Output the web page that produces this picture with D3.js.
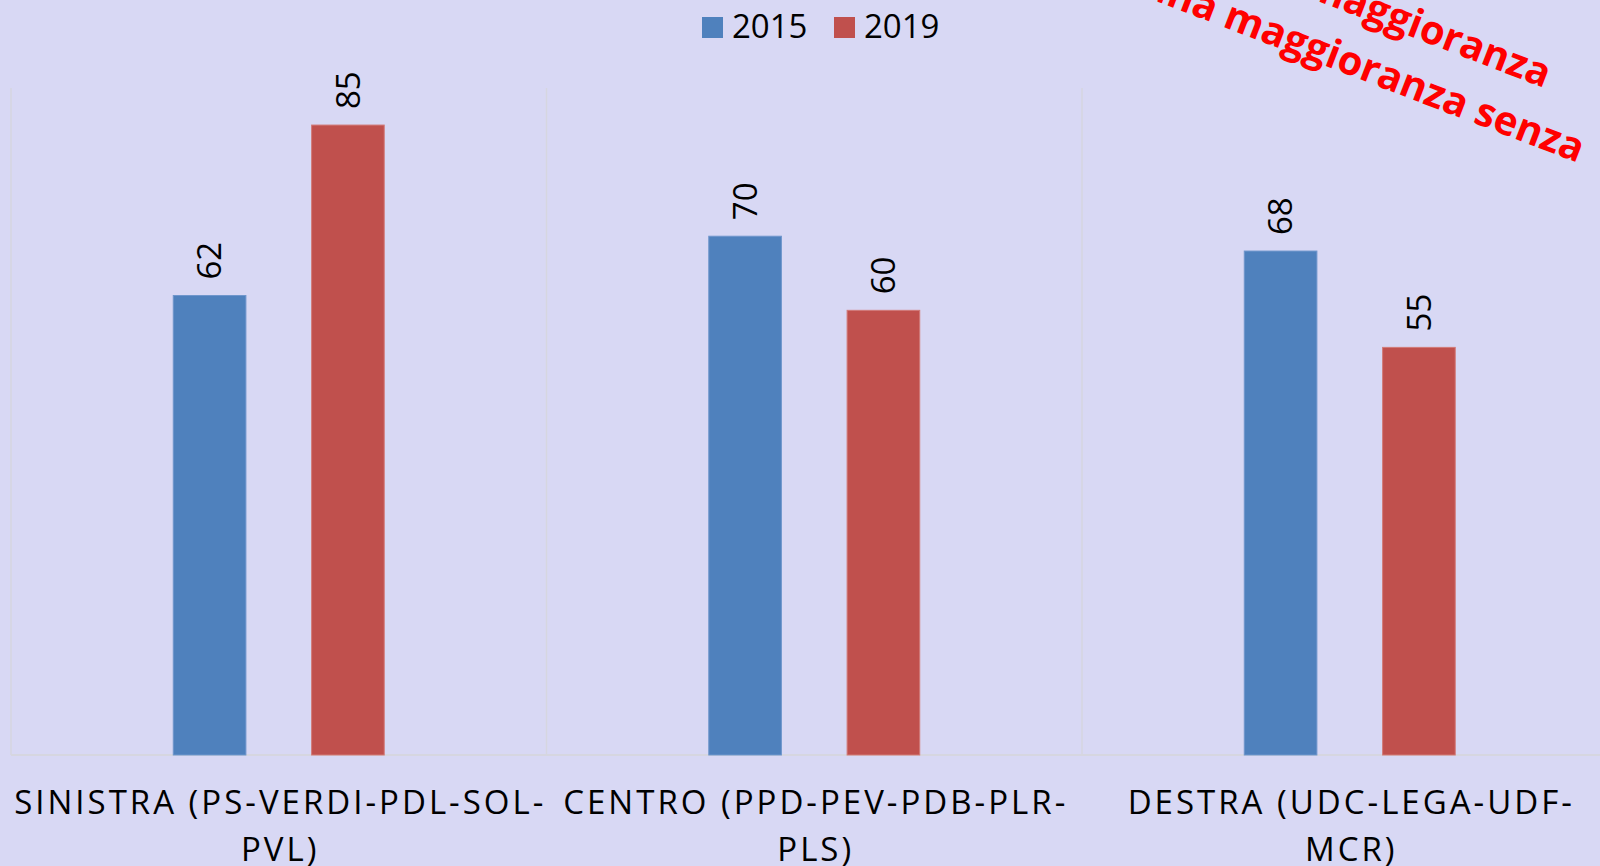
<!DOCTYPE html>
<html>
<head>
  <meta charset="utf-8">
  <title>Seggi 2015 - 2019</title>
  <script src="https://cdn.jsdelivr.net/npm/d3@7/dist/d3.min.js"></script>
  <style>
    html, body { margin: 0; padding: 0; background: #d8d8f4; overflow: hidden; }
    svg { display: block; font-family: "Open Sans", sans-serif; }
  </style>
</head>
<body>
  <svg id="chart" width="1600" height="866"></svg>
  <script>
    // dati
    const categorie = ['SINISTRA', 'CENTRO', 'DESTRA'];
    const etichette = [
      ['SINISTRA (PS-VERDI-PDL-SOL-', 'PVL)'],
      ['CENTRO (PPD-PEV-PDB-PLR-', 'PLS)'],
      ['DESTRA (UDC-LEGA-UDF-', 'MCR)']
    ];
    const serie = ['2015', '2019'];
    const valori2015 = [62, 70, 68];
    const valori2019 = [85, 60, 55];
    const colori = ['#4f81bd', '#c0504d'];
    const bordi = ['#6f96cc', '#d27a77'];
    const notaRighe = ['Nessuna maggioranza', 'una maggioranza senza'];

    const valori = [valori2015, valori2019];

    const svg = d3.select('#chart');

    // area del grafico (esce oltre il bordo destro, come nell'originale)
    const plotLeft = 11, plotTop = 88, plotBottom = 755, bandW = 535.5;

    const x = d3.scaleBand()
      .domain(categorie)
      .range([plotLeft, plotLeft + bandW * categorie.length])
      .padding(0);

    const xSerie = d3.scaleBand()
      .domain(serie)
      .range([0, x.bandwidth()])
      .paddingInner(0.475)
      .paddingOuter(1.173);

    const y = d3.scaleLinear()
      .domain([0, 90])
      .range([plotBottom, plotTop]);

    // griglia verticale tra le categorie
    const griglia = svg.append('g');
    const separatori = categorie.map(c => x(c)).concat([x.range()[1]]);
    griglia.selectAll('line.sep')
      .data(separatori)
      .join('line')
      .attr('class', 'sep')
      .attr('x1', d => d).attr('x2', d => d)
      .attr('y1', y(90)).attr('y2', y(0))
      .attr('stroke', '#d6d6e0')
      .attr('stroke-width', 1.5);

    griglia.append('line')
      .attr('x1', x.range()[0]).attr('x2', x.range()[1])
      .attr('y1', y(0)).attr('y2', y(0))
      .attr('stroke', '#d6d6e0')
      .attr('stroke-width', 2);

    // barre
    serie.forEach(function (s, si) {
      const g = svg.append('g');
      g.selectAll('rect')
        .data(categorie)
        .join('rect')
        .attr('x', (c) => x(c) + xSerie(s))
        .attr('y', (c, i) => y(valori[si][i]))
        .attr('width', xSerie.bandwidth())
        .attr('height', (c, i) => y(0) - y(valori[si][i]))
        .attr('fill', colori[si])
        .attr('stroke', bordi[si])
        .attr('stroke-width', 1);

      // etichette dei valori, ruotate
      g.selectAll('text')
        .data(categorie)
        .join('text')
        .attr('transform', (c, i) => {
          const cx = x(c) + xSerie(s) + xSerie.bandwidth() / 2;
          const cy = y(valori[si][i]) - 16;
          return 'translate(' + cx + ',' + cy + ') rotate(-90)';
        })
        .attr('dy', '0.36em')
        .attr('font-size', 33)
        .attr('fill', '#000')
        .text((c, i) => valori[si][i]);
    });

    // etichette asse x su due righe
    const asse = svg.append('g');
    const spaziatura = 3;
    categorie.forEach(function (c, i) {
      const cx = x(c) + x.bandwidth() / 2 + spaziatura / 2;
      const t = asse.append('text')
        .attr('text-anchor', 'middle')
        .attr('font-size', 33)
        .attr('letter-spacing', spaziatura)
        .attr('fill', '#000');
      etichette[i].forEach(function (riga, r) {
        t.append('tspan')
          .attr('x', cx)
          .attr('y', 814 + r * 47)
          .text(riga);
      });
    });

    // legenda
    const legenda = svg.append('g');
    const legX = [702, 834];
    serie.forEach(function (s, si) {
      legenda.append('rect')
        .attr('x', legX[si]).attr('y', 17)
        .attr('width', 21).attr('height', 21)
        .attr('fill', colori[si]);
      legenda.append('text')
        .attr('x', legX[si] + 30).attr('y', 38)
        .attr('font-size', 33)
        .attr('fill', '#000')
        .text(s);
    });

    // nota in rosso, ruotata e tagliata dal bordo
    const nota = svg.append('g')
      .attr('transform', 'translate(1578,163) rotate(21)');
    notaRighe.forEach(function (riga, r) {
      nota.append('text')
        .attr('x', r === 0 ? -58 : 0)
        .attr('y', r === 0 ? -58 : 0)
        .attr('text-anchor', 'end')
        .attr('font-size', 40)
        .attr('font-weight', 'bold')
        .attr('fill', '#ff0000')
        .text(riga);
    });
  </script>
</body>
</html>
